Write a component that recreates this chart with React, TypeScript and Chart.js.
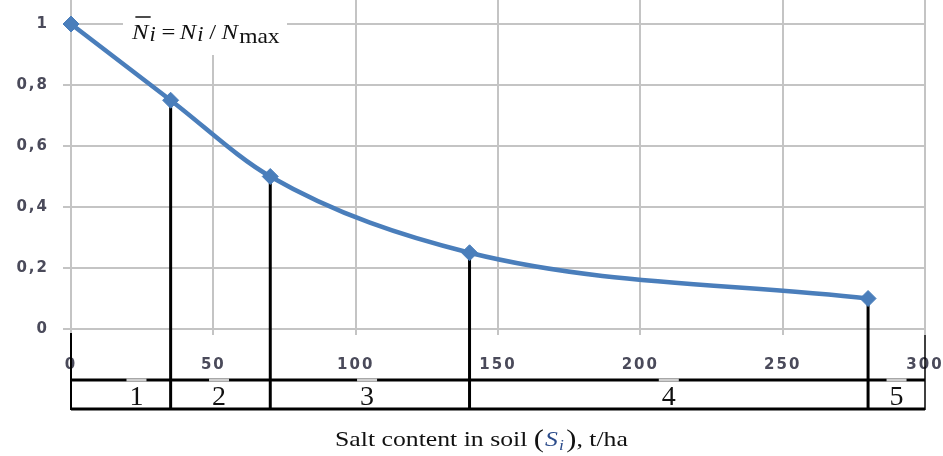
import React, { useEffect, useRef } from "react";
import { Chart, registerables } from "chart.js";

Chart.register(...registerables);

// ---- data ----
const saltContent = [0, 35, 70, 140, 280];
const relativeYield = [1, 0.75, 0.5, 0.25, 0.1];
const xTickValues = [0, 50, 100, 150, 200, 250, 300];
const yTickValues = [0, 0.2, 0.4, 0.6, 0.8, 1];
const zoneLabels = ["1", "2", "3", "4", "5"];
const zoneLabelSalt = [23, 52, 104, 210, 290];

const SERIF = "'Liberation Serif', 'Times New Roman', serif";

function drawRuns(ctx: CanvasRenderingContext2D, x: number, y: number, sx: number, runs: any[]) {
  ctx.save();
  ctx.translate(x, y);
  ctx.scale(sx, 1);
  let cx = 0;
  for (const r of runs) {
    ctx.font = r.font;
    ctx.fillStyle = r.color || "#111";
    ctx.textAlign = "left";
    ctx.textBaseline = "alphabetic";
    ctx.fillText(r.text, cx + (r.dx || 0), r.dy || 0);
    const w = ctx.measureText(r.text).width;
    if (r.overline) {
      ctx.strokeStyle = r.color || "#111";
      ctx.lineWidth = 1.5;
      ctx.beginPath();
      ctx.moveTo(cx + 3, -22);
      ctx.lineTo(cx + w + 2, -22);
      ctx.stroke();
    }
    cx += w + (r.gap || 0);
  }
  ctx.restore();
}

const overlayPlugin = {
  id: "overlay",
  beforeDraw(chart: any) {
    chart.ctx.letterSpacing = "2px";
  },
  beforeDatasetsDraw(chart: any) {
    const ctx: CanvasRenderingContext2D = chart.ctx;
    ctx.letterSpacing = "0px";
    const xs = chart.scales.x;
    const ys = chart.scales.y;
    const ca = chart.chartArea;
    const x0 = xs.getPixelForValue(0);
    const x1 = xs.getPixelForValue(300);
    const tableTop = ca.bottom + 51;
    const tableBottom = ca.bottom + 80;
    ctx.save();
    // white box behind the formula label
    ctx.fillStyle = "#ffffff";
    ctx.fillRect(x0 + 52, 0, 164, 55);

    // drop lines from points
    ctx.strokeStyle = "#000";
    ctx.lineWidth = 3;
    for (let i = 1; i < saltContent.length; i++) {
      const px = xs.getPixelForValue(saltContent[i]);
      const py = ys.getPixelForValue(relativeYield[i]);
      ctx.beginPath();
      ctx.moveTo(px, py);
      ctx.lineTo(px, tableBottom + 1);
      ctx.stroke();
    }
    // table
    ctx.lineWidth = 3;
    ctx.beginPath();
    ctx.moveTo(x0, tableTop);
    ctx.lineTo(x1, tableTop);
    ctx.moveTo(x0, tableBottom);
    ctx.lineTo(x1, tableBottom);
    ctx.stroke();
    ctx.lineWidth = 2;
    ctx.beginPath();
    ctx.moveTo(x0, ca.bottom + 4);
    ctx.lineTo(x0, tableBottom + 1);
    ctx.stroke();
    ctx.lineWidth = 1.5;
    ctx.beginPath();
    ctx.moveTo(x1, ca.bottom + 6);
    ctx.lineTo(x1, tableBottom + 1);
    ctx.stroke();

    // zone labels
    for (let i = 0; i < zoneLabels.length; i++) {
      const lx = xs.getPixelForValue(zoneLabelSalt[i]);
      ctx.fillStyle = "#cfcfcf";
      ctx.fillRect(lx - 10, tableTop - 1.5, 20, 3);
      ctx.fillStyle = "#111";
      ctx.font = `28px ${SERIF}`;
      ctx.textAlign = "center";
      ctx.textBaseline = "alphabetic";
      ctx.fillText(zoneLabels[i], lx, tableBottom - 4);
    }

    // formula label
    drawRuns(ctx, x0 + 61, 39, 1.12, [
      { text: "N", font: `italic 22px ${SERIF}`, overline: true, gap: 1 },
      { text: "i", font: `italic 20px ${SERIF}`, dy: 2, gap: 5 },
      { text: "=", font: `22px ${SERIF}`, gap: 4 },
      { text: "N", font: `italic 22px ${SERIF}`, gap: 1 },
      { text: "i", font: `italic 20px ${SERIF}`, dy: 2, gap: 5 },
      { text: "/", font: `22px ${SERIF}`, gap: 5 },
      { text: "N", font: `italic 22px ${SERIF}`, gap: 1 },
      { text: "max", font: `21px ${SERIF}`, dy: 4 },
    ]);

    // axis title
    drawRuns(ctx, x0 + 264, 446, 1.17, [
      { text: "Salt content in soil ", font: `22px ${SERIF}` },
      { text: "(", font: `26px ${SERIF}`, dy: 1, gap: 1 },
      { text: "S", font: `italic 22px ${SERIF}`, color: "#2b4b8a", gap: 1 },
      { text: "i", font: `italic 15px ${SERIF}`, color: "#2b4b8a", dy: 4, gap: 2 },
      { text: ")", font: `26px ${SERIF}`, dy: 1 },
      { text: ", t/ha", font: `22px ${SERIF}` },
    ]);
    ctx.restore();
  },
};

function formatY(v: number) {
  if (v === 0) return "0";
  return String(Math.round(v * 10) / 10).replace(".", ",");
}

const tickFont = { family: "'DejaVu Sans', Verdana, sans-serif", size: 15, weight: "bold" as const };

export default function App() {
  const ref = useRef<HTMLCanvasElement | null>(null);
  useEffect(() => {
    if (!ref.current) return;
    const chart = new Chart(ref.current, {
      type: "line",
      data: {
        datasets: [
          {
            data: saltContent.map((s, i) => ({ x: s, y: relativeYield[i] })),
            borderColor: "#4a7ebb",
            backgroundColor: "#4a7ebb",
            borderWidth: 4.5,
            pointStyle: "rectRot",
            pointRadius: 8,
            pointBorderWidth: 1,
            pointBackgroundColor: "#4a7ebb",
            pointBorderColor: "#4a7ebb",
            cubicInterpolationMode: "monotone",
            clip: false,
            fill: false,
          } as any,
        ],
      },
      options: {
        animation: false,
        responsive: false,
        layout: { autoPadding: false, padding: { top: 0, right: 18, bottom: 0, left: 0 } },
        plugins: { legend: { display: false }, tooltip: { enabled: false } },
        scales: {
          x: {
            type: "linear",
            min: 0,
            max: 300,
            afterBuildTicks: (s: any) => {
              s.ticks = xTickValues.map((v) => ({ value: v }));
            },
            afterFit: (s: any) => {
              s.height = 127;
              s.paddingLeft = 0;
              s.paddingRight = 0;
            },
            grid: { color: "#c4c4c4", lineWidth: 2, tickLength: 6 },
            border: { display: false },
            ticks: {
              padding: 21,
              maxRotation: 0,
              color: "#4a4a5a",
              font: tickFont,
            },
          },
          y: {
            type: "linear",
            min: 0,
            max: 1.0787,
            afterBuildTicks: (s: any) => {
              s.ticks = yTickValues.map((v) => ({ value: v }));
            },
            afterFit: (s: any) => {
              s.width = 71;
              s.paddingTop = 0;
              s.paddingBottom = 0;
            },
            grid: { color: "#c4c4c4", lineWidth: 2, tickLength: 8 },
            border: { display: false },
            ticks: {
              padding: 14,
              color: "#4a4a5a",
              callback: (v: any) => formatY(Number(v)),
              font: tickFont,
            },
          },
        },
      },
      plugins: [overlayPlugin],
    });
    return () => chart.destroy();
  }, []);
  return (
    <div style={{ position: "absolute", left: 0, top: 0, width: 943, height: 456, background: "#fff" }}>
      <canvas ref={ref} width={943} height={456} style={{ display: "block" }} />
    </div>
  );
}
